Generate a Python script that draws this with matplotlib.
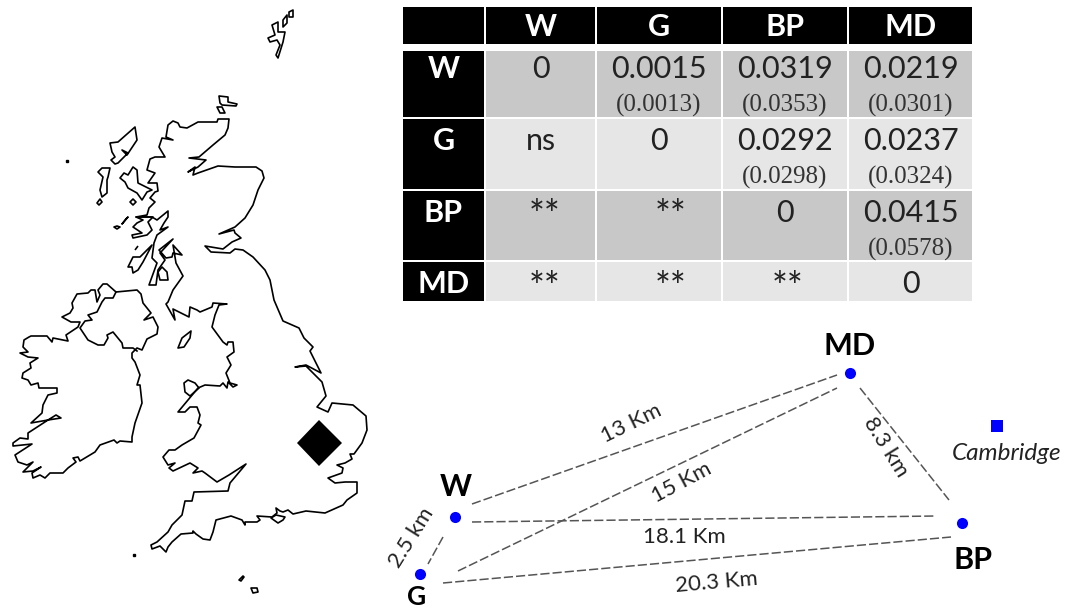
from matplotlib import pyplot as plt
from matplotlib.patches import Polygon, Rectangle

# table content
sites = ["W", "G", "BP", "MD"]
fst_values = [
    ["0", "0.0015", "0.0319", "0.0219"],
    ["ns", "0", "0.0292", "0.0237"],
    ["**", "**", "0", "0.0415"],
    ["**", "**", "**", "0"],
]
fst_brackets = [
    ["", "(0.0013)", "(0.0353)", "(0.0301)"],
    ["", "", "(0.0298)", "(0.0324)"],
    ["", "", "", "(0.0578)"],
    ["", "", "", ""],
]

# sampling sites and distances, in picture pixels
site_xy = {"W": (455, 517), "G": (420, 574), "BP": (962, 523), "MD": (850, 373)}
cambridge_xy = (997, 426)
link_lines = [
    ((472, 504), (837, 375)),
    ((458, 571), (837, 388)),
    ((860, 388), (949, 500)),
    ((472, 522), (936, 516)),
    ((443, 583), (951, 537)),
    ((443, 537), (428, 564)),
]
link_labels = ["13 Km", "15 Km", "8.3 km", "18.1 Km", "20.3 Km", "2.5 km"]
link_label_xy = [(631, 423), (682, 483), (886, 447), (684, 537), (717, 582), (412, 538)]
link_label_angle = [26, 28, -58, 0, 5, 58]

# coastlines
great_britain = [
    (229, 119), (228, 128), (225, 135), (213, 145), (199, 157), (189, 158), (206, 160), (198, 167),
    (188, 172), (195, 167), (193, 175), (198, 173), (218, 166), (235, 167), (256, 167), (262, 171),
    (264, 178), (258, 190), (253, 205), (245, 218), (235, 227), (219, 234), (234, 230), (235, 233),
    (241, 238), (232, 242), (223, 249), (205, 246), (211, 252), (230, 253), (235, 249), (243, 250),
    (253, 257), (265, 270), (270, 280), (274, 300), (283, 321), (299, 328), (304, 338), (313, 347),
    (310, 351), (321, 373), (306, 365), (295, 367), (306, 366), (322, 382), (326, 396), (317, 407),
    (328, 412), (332, 403), (353, 405), (366, 416), (367, 430), (362, 443), (354, 454), (350, 454),
    (352, 459), (345, 463), (337, 465), (343, 468), (342, 473), (328, 478), (335, 483), (345, 482),
    (357, 482), (357, 493), (347, 500), (343, 505), (325, 513), (306, 511), (293, 514), (288, 510),
    (283, 512), (280, 511), (276, 508), (277, 513), (272, 517), (257, 516), (260, 520), (257, 522),
    (245, 522), (245, 525), (242, 520), (231, 516), (216, 520), (213, 532), (210, 540), (203, 539),
    (196, 534), (193, 531), (193, 533), (181, 534), (172, 542), (168, 547), (166, 552), (160, 546),
    (152, 549), (151, 545), (157, 542), (168, 532), (172, 525), (182, 515), (185, 501), (192, 501),
    (194, 492), (228, 491), (230, 483), (246, 464), (229, 475), (217, 482), (205, 473), (202, 471),
    (193, 473), (198, 468), (190, 463), (173, 471), (169, 468), (175, 463), (168, 465), (163, 457),
    (169, 450), (175, 450), (182, 445), (194, 438), (201, 425), (198, 423), (200, 415), (197, 407),
    (190, 407), (185, 412), (178, 412), (198, 388), (205, 385), (220, 386), (223, 383), (227, 388),
    (228, 382), (233, 387), (237, 385), (230, 383), (226, 373), (231, 365), (227, 357), (234, 352),
    (233, 342), (228, 342), (227, 345), (223, 342), (212, 327), (215, 315), (219, 305), (227, 304),
    (213, 303), (212, 307), (200, 312), (197, 310), (190, 307), (189, 317), (173, 309), (175, 320),
    (166, 304), (168, 302), (173, 290), (183, 276), (176, 263), (173, 245), (182, 255), (173, 253),
    (172, 257), (166, 258), (159, 250), (173, 239), (160, 253), (165, 260), (158, 270), (156, 285),
    (149, 285), (157, 263), (152, 258), (154, 243), (157, 235), (168, 227), (160, 230), (164, 223),
    (168, 217), (168, 211), (157, 220), (152, 217), (136, 217), (147, 215), (149, 208), (155, 202),
    (150, 198), (155, 192), (158, 191), (157, 183), (148, 183), (155, 173), (147, 170), (150, 159),
    (155, 157), (165, 157), (159, 147), (162, 138), (173, 140), (166, 137), (168, 125), (173, 121),
    (178, 123), (180, 127), (187, 128), (198, 122), (217, 122), (218, 119),
]
ireland = [
    (116, 292), (137, 290), (141, 294), (143, 303), (151, 313), (144, 320), (153, 317), (158, 327),
    (157, 334), (147, 339), (142, 350), (137, 348), (132, 353), (132, 358), (135, 362), (140, 375),
    (137, 385), (140, 385), (142, 403), (135, 423), (132, 437), (132, 442), (120, 441), (117, 443),
    (114, 440), (100, 445), (95, 452), (80, 461), (78, 457), (73, 458), (76, 462), (68, 468),
    (63, 473), (50, 473), (45, 478), (40, 475), (33, 478), (32, 473), (41, 467), (33, 471),
    (23, 472), (33, 462), (27, 465), (18, 462), (15, 455), (32, 444), (13, 446), (13, 443),
    (20, 438), (28, 439), (28, 433), (48, 420), (61, 418), (56, 415), (48, 420), (31, 423),
    (42, 413), (43, 405), (48, 395), (57, 393), (57, 388), (39, 388), (38, 383), (31, 385),
    (28, 380), (22, 378), (23, 373), (31, 368), (30, 363), (38, 358), (28, 357), (20, 353),
    (28, 352), (23, 347), (24, 340), (29, 337), (31, 336), (47, 336), (52, 342), (53, 338),
    (68, 341), (66, 335), (78, 327), (80, 322), (71, 322), (62, 317), (70, 313), (73, 308),
    (72, 303), (77, 294), (88, 293), (91, 290), (95, 290), (97, 302), (100, 295), (98, 290),
    (103, 284), (107, 284), (116, 292),
]
irish_border = [
    (116, 292), (113, 298), (105, 298), (102, 302), (97, 312), (88, 315), (92, 320), (85, 321),
    (80, 328), (88, 340), (98, 345), (104, 345), (108, 338), (107, 335), (113, 332), (122, 343),
    (123, 348), (133, 348), (137, 351),
]
islands = [
    [(268, 38), (275, 35), (272, 25), (278, 22), (278, 32), (285, 32), (283, 42), (278, 58), (276, 55), (280, 45), (277, 40), (270, 42)],
    [(283, 20), (287, 15), (287, 23), (283, 27)],
    [(289, 12), (293, 10), (293, 17), (289, 17)],
    [(219, 96), (228, 97), (228, 102), (237, 104), (236, 106), (222, 105), (220, 103)],
    [(217, 107), (222, 107), (225, 113), (220, 113)],
    [(110, 143), (118, 142), (135, 127), (137, 140), (127, 155), (122, 150), (128, 153), (118, 163), (115, 164), (111, 160), (115, 157), (112, 152)],
    [(98, 172), (102, 168), (110, 168), (108, 177), (107, 180), (107, 193), (102, 197), (100, 190), (103, 177)],
    [(97, 203), (100, 199), (102, 202), (99, 205)],
    [(120, 178), (124, 173), (128, 175), (133, 167), (137, 170), (138, 183), (152, 190), (147, 192), (142, 200), (137, 193), (128, 188), (125, 182)],
    [(130, 202), (133, 199), (136, 202), (133, 205)],
    [(114, 227), (117, 226), (120, 227), (117, 229)],
    [(122, 224), (128, 217), (126, 219)],
    [(133, 238), (132, 235), (142, 233), (133, 227), (137, 223), (143, 220), (136, 217), (153, 217), (148, 222), (152, 230), (147, 235)],
    [(128, 267), (133, 257), (140, 257), (152, 245), (143, 262), (138, 270), (133, 273), (132, 267)],
    [(135, 250), (138, 246)],
    [(158, 272), (162, 267), (167, 272), (168, 280), (160, 280)],
    [(178, 348), (182, 338), (191, 331), (190, 338), (184, 347)],
    [(184, 383), (188, 380), (195, 383), (199, 388), (190, 396), (185, 392)],
    [(271, 518), (276, 515), (285, 517), (283, 520), (278, 523)],
    [(239, 580), (243, 576), (244, 577), (241, 581)],
    [(251, 588), (257, 588), (258, 592), (253, 593)],
]
specks = [(67, 161), (134, 555)]
sample_area = [(319, 420), (342, 443), (319, 466), (297, 443)]

# table layout
col_edges = [(403, 484), (486, 595), (597, 721), (723, 847), (849, 972)]
row_edges = [(7, 44), (51, 117), (119, 189), (191, 260), (262, 301)]
value_base = [78, 150, 222, 293]
bracket_base = [112, 184, 256]
star_base = [0, 0, 228, 300]
star_shift = [4, 12, 3]
row_color = ["#c8c8c8", "#e6e6e6", "#c8c8c8", "#e6e6e6"]

plt.rcParams["font.family"] = ["Lato", "DejaVu Sans"]

fig = plt.figure(figsize=(10.76, 6.11), dpi=100)
ax = fig.add_axes([0, 0, 1, 1])
ax.set_xlim(0, 1076)
ax.set_ylim(611, 0)
ax.axis("off")

# map
for coast in [great_britain, ireland] + islands:
    ax.add_patch(Polygon(coast, closed=True, fill=False, edgecolor="black", linewidth=1.2, joinstyle="round"))
ax.plot([p[0] for p in irish_border], [p[1] for p in irish_border], color="black", linewidth=1.2)
ax.plot([p[0] for p in specks], [p[1] for p in specks], "s", color="black", markersize=1.5)
ax.add_patch(Polygon(sample_area, closed=True, color="black", linewidth=0))

# table
for j, (x0, x1) in enumerate(col_edges):
    y0, y1 = row_edges[0]
    ax.add_patch(Rectangle((x0, y0), x1 - x0, y1 - y0, color="black", linewidth=0))
    if j > 0:
        ax.text((x0 + x1) / 2, 36, sites[j - 1], color="white", fontsize=22, fontweight="bold", ha="center", va="baseline")

for i, (y0, y1) in enumerate(row_edges[1:]):
    x0, x1 = col_edges[0]
    ax.add_patch(Rectangle((x0, y0), x1 - x0, y1 - y0, color="black", linewidth=0))
    ax.text((x0 + x1) / 2, value_base[i], sites[i], color="white", fontsize=22, fontweight="bold", ha="center", va="baseline")
    for j, (x0, x1) in enumerate(col_edges[1:]):
        ax.add_patch(Rectangle((x0, y0), x1 - x0, y1 - y0, color=row_color[i], linewidth=0))
        xc = (x0 + x1) / 2
        value = fst_values[i][j]
        if value == "**":
            ax.text(xc + star_shift[j], star_base[i], value, fontsize=27, color="#222222", ha="center", va="baseline")
        else:
            ax.text(xc, value_base[i], value, fontsize=22, color="#222222", ha="center", va="baseline")
        if fst_brackets[i][j]:
            ax.text(xc, bracket_base[i], fst_brackets[i][j], fontsize=18, color="#333333", family="Liberation Serif", ha="center", va="baseline")

# distances between sites
for (x0, y0), (x1, y1) in link_lines:
    ax.plot([x0, x1], [y0, y1], color="#555555", linewidth=1.1, linestyle=(0, (6, 2)))
for label, (x, y), angle in zip(link_labels, link_label_xy, link_label_angle):
    ax.text(x, y, label, fontsize=16, color="#222222", rotation=angle, rotation_mode="anchor", ha="center", va="center")

ax.plot([p[0] for p in site_xy.values()], [p[1] for p in site_xy.values()], "o", color="#0000ff", markersize=8, markeredgewidth=0)
ax.plot(*cambridge_xy, "s", color="#0000ff", markersize=8, markeredgewidth=0)
ax.text(1007, 453, "Cambridge", fontsize=17.5, style="italic", color="#222222", ha="center", va="center")

ax.text(850, 346, "MD", fontsize=22, fontweight="bold", ha="center", va="center")
ax.text(456, 487, "W", fontsize=22, fontweight="bold", ha="center", va="center")
ax.text(417, 605, "G", fontsize=19, fontweight="bold", ha="center", va="baseline")
ax.text(973, 560, "BP", fontsize=22, fontweight="bold", ha="center", va="center")

fig.savefig("out.png", dpi=100, facecolor="white")
